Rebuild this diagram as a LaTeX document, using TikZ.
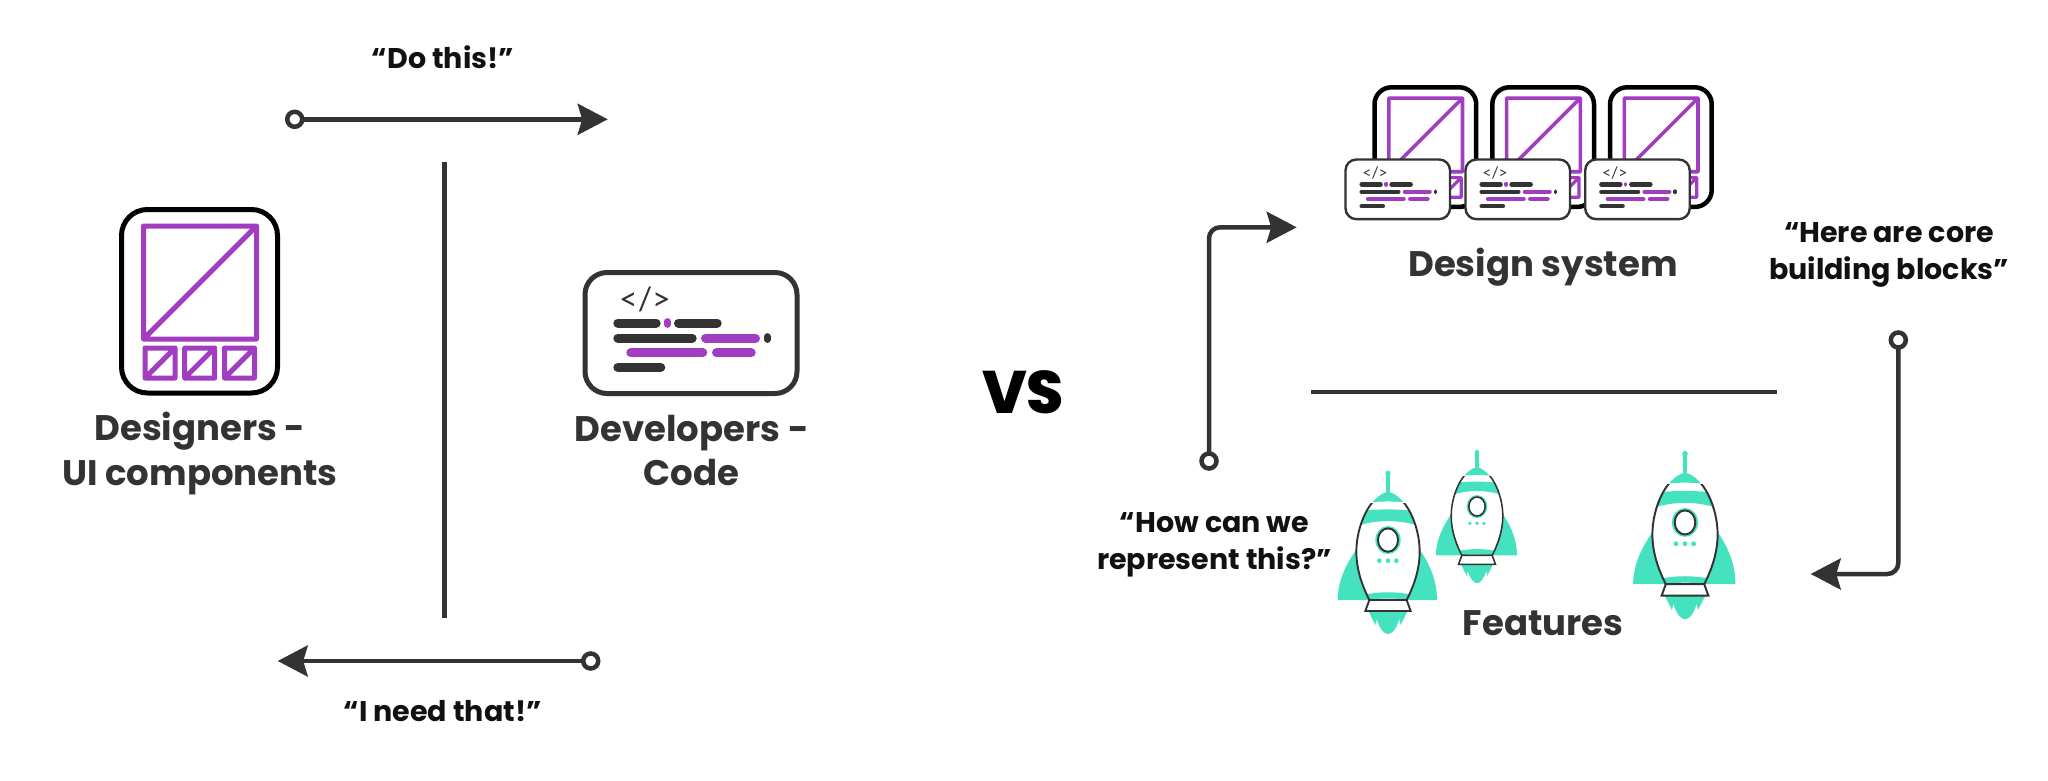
\documentclass[tikz,border=0pt]{standalone}
\usepackage{fontspec}
\usetikzlibrary{arrows.meta}
\setmainfont{Poppins}
\newfontfamily\quotef{Poppins}
\newfontfamily\vsf{Poppins ExtraBold}
\newfontfamily\glyphf{Lato}
\definecolor{ink}{HTML}{333333}
\definecolor{quoteink}{HTML}{111111}
\definecolor{plum}{HTML}{A03DC1}
\definecolor{mint}{HTML}{45E2C0}
\tikzset{
  conn/.style={draw=ink,line width=4.5pt,-{Stealth[length=30pt,width=31pt,inset=4.5pt]}},
  plainrule/.style={draw=ink,line width=4.5pt},
  startdot/.style={circle,draw=ink,line width=4.5pt,fill=white,minimum size=15pt,inner sep=0pt,outer sep=0pt},
  biglabel/.style={text=ink,align=center,font=\quotef\bfseries\fontsize{35.5}{44.5}\selectfont,inner sep=0pt},
  quotelabel/.style={text=quoteink,align=center,font=\quotef\bfseries\fontsize{28.5}{36.5}\selectfont,inner sep=0pt},
}
% designer icon: #1 x, #2 y, #3 scale, #4 frame width, #5 large purple width, #6 small purple width
\newcommand\designicon[6]{%
  \begin{scope}[shift={(#1,#2)},scale=#3,line join=round]
    \draw[black,fill=white,line width=#4 pt,rounded corners=#3*26pt] (0,0) rectangle (156,183.5);
    \draw[plum,line width=#5 pt] (22,16.5) rectangle (135,129.5) (22,129.5) -- (135,16.5);
    \foreach \q in {23.5,63.2,103}{
      \draw[plum,line width=#6 pt] (\q,138.5) rectangle +(30,30) (\q,168.5) -- +(30,-30);
    }
  \end{scope}}
% code card: #1 x, #2 y, #3 scale, #4 frame width, #5 glyph size
\newcommand\codecard[5]{%
  \begin{scope}[shift={(#1,#2)},scale=#3,line cap=round]
    \draw[ink,fill=white,line width=#4 pt,rounded corners=#3*22pt] (0,0) rectangle (212,121);
    \node[text=ink,inner sep=0pt,font=\glyphf\fontsize{#5}{#5}\selectfont] (glyph#1) at (60,27) {</>};
    \begin{scope}[line width=#3*9pt]
      \draw[ink] (32.8,50.5) -- (71.2,50.5) (93.5,50.5) -- (132.2,50.5)
                 (32.8,65.5) -- (107.2,65.5) (32.8,94.8) -- (75.8,94.8);
      \draw[plum] (120.5,65.5) -- (170.5,65.5) (45.8,80.2) -- (117.8,80.2) (131.5,80.2) -- (166.2,80.2);
    \end{scope}
    \draw[plum,line width=#3*6.7pt] (82.3,49) -- (82.3,52);
    \draw[ink,line width=#3*6.7pt] (182.2,64) -- (182.2,67);
  \end{scope}}
\newcommand\rocketbody{(0,63) .. controls (55,75) and (95,165) .. (95,243) .. controls (95,300) and (75,350) .. (56,388) -- (-56,388) .. controls (-75,350) and (-95,300) .. (-95,243) .. controls (-95,165) and (-55,75) .. (0,63) -- cycle}
% rocket: #1 centre x, #2 top y, #3 scale
\newcommand\rocket[3]{%
  \begin{scope}[shift={(#1,#2)},scale=#3/3]
    \fill[mint] (0,8) circle (8);
    \draw[mint,line width=#3*4.4pt] (0,8) -- (0,70);
    \fill[mint] (-96,238) .. controls (-125,280) and (-151,330) .. (-151,388) -- (-40,388) -- (-40,238) -- cycle;
    \fill[mint] (96,238) .. controls (125,280) and (147,330) .. (147,388) -- (40,388) -- (40,238) -- cycle;
    \fill[mint] (-58,423) -- (-38,463) -- (-34,445) .. controls (-25,475) and (-12,490) .. (0,490) .. controls (12,490) and (25,475) .. (34,445) -- (38,463) -- (58,423) -- cycle;
    \fill[white] \rocketbody;
    \begin{scope}
      \clip \rocketbody;
      \fill[mint] (-120,105) .. controls (-40,88) and (40,88) .. (120,105) -- (120,50) -- (-120,50) -- cycle;
      \fill[mint] (-120,128) .. controls (-40,112) and (40,112) .. (120,128) -- (120,175) .. controls (40,143) and (-40,143) .. (-120,175) -- cycle;
      \fill[mint] (-120,385) .. controls (-40,358) and (40,358) .. (120,385) -- (120,400) .. controls (40,378) and (-40,378) .. (-120,400) -- cycle;
    \end{scope}
    \begin{scope}
      \clip (-200,98) rectangle (200,500);
      \draw[ink,line width=#3*1.9pt] \rocketbody;
    \end{scope}
    \draw[ink,fill=white,line width=#3*1.9pt,line join=miter] (-56,388) -- (56,388) -- (68,421) -- (-68,421) -- cycle;
    \fill[mint] (0,208) ellipse (38 and 42);
    \draw[ink,fill=white,line width=#3*1.9pt] (0,208) ellipse (30 and 35);
    \foreach \q in {-26,0,25}{\fill[mint] (\q,270) circle (7);}
  \end{scope}}
\begin{document}
\begin{tikzpicture}[x=1pt,y=-1pt]
  \useasboundingbox[fill=white] (0,0) rectangle (2048,780);

  % left panel
  \designicon{121.5}{209.5}{1}{5}{5}{5}
  \codecard{585}{272.5}{1}{5}{32}
  \node[biglabel,anchor=center] (designers) at (200,453.5) {Designers -\\UI components};
  \node[biglabel,anchor=center] (developers) at (691.7,450.5) {Developers -\\Code};
  \node[quotelabel,anchor=base] (dothis) at (443,68.3) {“Do this!”};
  \node[quotelabel,anchor=base] (ineed) at (442.7,721.7) {“I need that!”};
  \node[startdot] (a1) at (294.7,119.3) {};
  \coordinate (a2) at (607.7,119.3);
  \draw[conn] (a1) -- (a2);
  \node[startdot] (b1) at (590.7,661) {};
  \coordinate (b2) at (277.7,661);
  \draw[conn] (b1) -- (b2);
  \coordinate (d1) at (444.3,161.7);
  \coordinate (d2) at (444.3,618.3);
  \draw[plainrule] (d1) -- (d2);

  % versus
  \node[anchor=base,inner sep=0pt,text=black,font=\vsf\fontsize{60}{60}\selectfont] (vs) at (1023,413.3) {VS};

  % design system
  \designicon{1374.5}{87.3}{0.652}{4.5}{3.6}{3.2}
  \designicon{1492.3}{87.3}{0.652}{4.5}{3.6}{3.2}
  \designicon{1610}{87.3}{0.652}{4.5}{3.6}{3.2}
  \codecard{1345.5}{159.5}{0.493}{2.4}{15.8}
  \codecard{1465.5}{159.5}{0.493}{2.4}{15.8}
  \codecard{1585.2}{159.5}{0.493}{2.4}{15.8}
  \node[biglabel,anchor=base] (ds) at (1543,276) {Design system};

  % right panel connectors
  \coordinate (h1) at (1311,392);
  \coordinate (h2) at (1776.7,392);
  \draw[plainrule] (h1) -- (h2);
  \node[startdot] (c1) at (1209,461) {};
  \coordinate (c2) at (1296.7,227.3);
  \draw[conn,rounded corners=11pt] (c1.north) |- (c2);
  \node[startdot] (e1) at (1898.3,340) {};
  \coordinate (e2) at (1810.7,574);
  \draw[conn,rounded corners=11pt] (e1.south) |- (e2);
  \node[quotelabel,anchor=center] (how) at (1214.5,545) {“How can we\\represent this?”};
  \node[quotelabel,anchor=center] (here) at (1889,255) {“Here are core\\building blocks”};

  % rockets
  \rocket{1388}{470.7}{1}
  \rocket{1477}{450}{0.815}
  \rocket{1685}{451}{1.03}
  \node[biglabel,anchor=base] (features) at (1543,635) {Features};
\end{tikzpicture}
\end{document}
